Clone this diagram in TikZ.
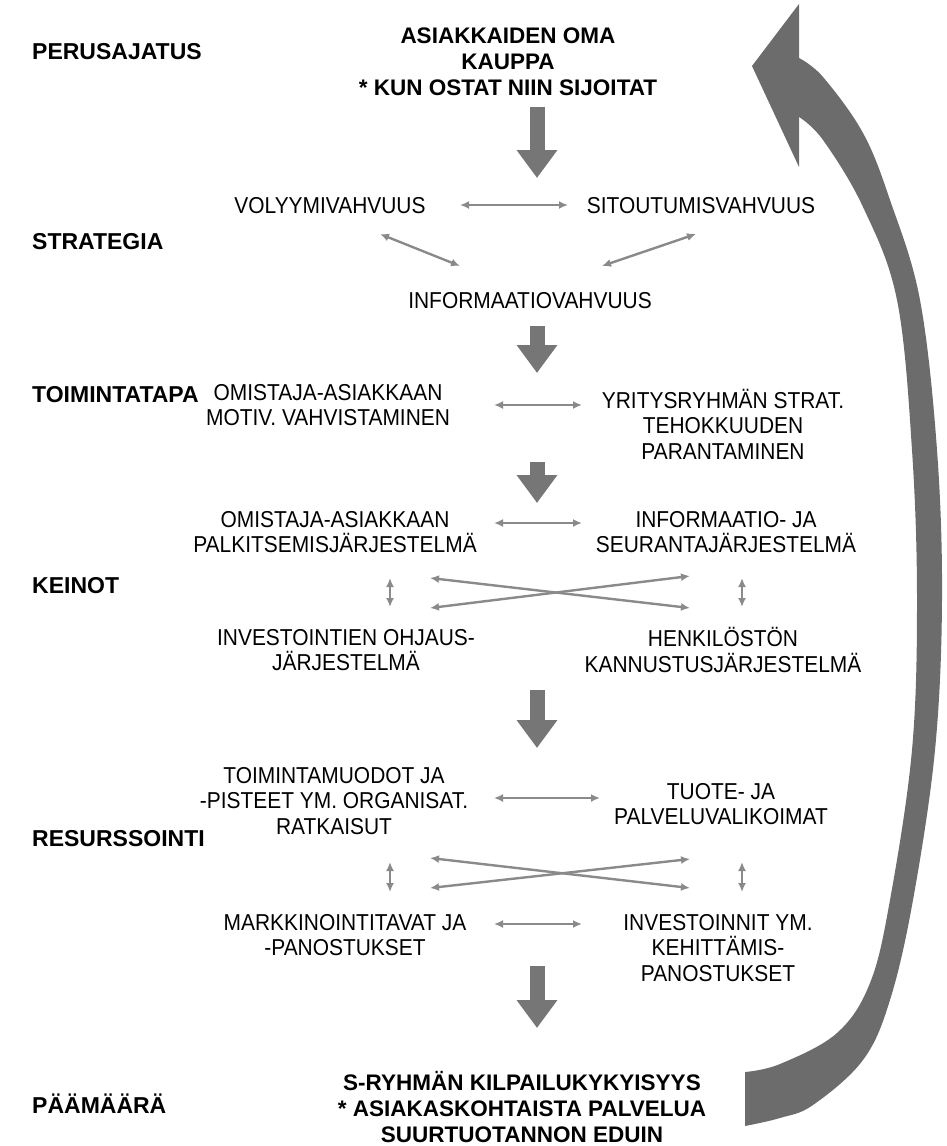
\documentclass[tikz,border=0pt]{standalone}
\usepackage{fontspec}
\setmainfont{Liberation Sans}
\newfontfamily\itemfont{Liberation Sans}[FakeStretch=0.91]
\usetikzlibrary{arrows.meta}
\definecolor{flowgray}{RGB}{118,118,118}
\definecolor{linkgray}{RGB}{138,138,138}
\definecolor{curvegray}{RGB}{108,108,108}

\begin{document}
\begin{tikzpicture}[x=1pt, y=-1pt,
  head/.style={anchor=west, inner sep=0, font=\fontsize{23}{25.5}\selectfont\bfseries},
  goal/.style={align=center, inner sep=0, font=\fontsize{22.5}{26}\selectfont\bfseries},
  item/.style={align=center, inner sep=0, font=\itemfont\fontsize{23}{25.5}\selectfont},
  link/.style={{Latex[length=9pt,width=8pt]}-{Latex[length=9pt,width=8pt]}, line width=2.4pt, draw=linkgray},
  flow/.style={-{Triangle[length=28pt,width=39pt]}, line width=15pt, draw=flowgray}
]
\useasboundingbox (0,0) rectangle (947,1146);

% Level headings on the left
\node[head] (perus) at (32,52) {PERUSAJATUS};
\node[head] (strat) at (32,242) {STRATEGIA};
\node[head] (toim) at (32,395) {TOIMINTATAPA};
\node[head] (keinot) at (32,586) {KEINOT};
\node[head] (resurs) at (32,839) {RESURSSOINTI};
\node[head] (paam) at (32,1104) {PÄÄMÄÄRÄ};

% Idea and goal
\node[goal] (idea) at (508,62) {ASIAKKAIDEN OMA\\KAUPPA\\* KUN OSTAT NIIN SIJOITAT};
\node[goal] (kilp) at (522,1107) {S-RYHMÄN KILPAILUKYKYISYYS\\* ASIAKASKOHTAISTA PALVELUA\\SUURTUOTANNON EDUIN};

% Strategy
\node[item] (vol) at (330,206) {VOLYYMIVAHVUUS};
\node[item] (sit) at (701,206) {SITOUTUMISVAHVUUS};
\node[item] (inf) at (530,301) {INFORMAATIOVAHVUUS};

% Way of working
\node[item] (motiv) at (328,405) {OMISTAJA-ASIAKKAAN\\MOTIV. VAHVISTAMINEN};
\node[item] (teho) at (723,424) {YRITYSRYHMÄN STRAT.\\TEHOKKUUDEN\\PARANTAMINEN};

% Means
\node[item] (palk) at (335,532) {OMISTAJA-ASIAKKAAN\\PALKITSEMISJÄRJESTELMÄ};
\node[item] (seur) at (726,532) {INFORMAATIO- JA\\SEURANTAJÄRJESTELMÄ};
\node[item] (ohj) at (346,650) {INVESTOINTIEN OHJAUS-\\JÄRJESTELMÄ};
\node[item] (kann) at (723,650) {HENKILÖSTÖN\\KANNUSTUSJÄRJESTELMÄ};

% Resources
\node[item] (muod) at (334,801) {TOIMINTAMUODOT JA\\-PISTEET YM. ORGANISAT.\\RATKAISUT};
\node[item] (valik) at (721,804) {TUOTE- JA\\PALVELUVALIKOIMAT};
\node[item] (mark) at (345,935) {MARKKINOINTITAVAT JA\\-PANOSTUKSET};
\node[item] (kehit) at (718,948) {INVESTOINNIT YM.\\KEHITTÄMIS-\\PANOSTUKSET};

% End points of the arrows
\coordinate (f1a) at (537,107); \coordinate (f1b) at (537,178);
\coordinate (f2a) at (537,326); \coordinate (f2b) at (537,373);
\coordinate (f3a) at (537,462); \coordinate (f3b) at (537,503);
\coordinate (f4a) at (537,690); \coordinate (f4b) at (537,748);
\coordinate (f5a) at (537,966); \coordinate (f5b) at (537,1028);
\coordinate (dl1) at (380,234); \coordinate (dl2) at (460,266);
\coordinate (dr1) at (602,266); \coordinate (dr2) at (696,234);
\coordinate (xa1) at (430,578); \coordinate (xa2) at (690,608);
\coordinate (xb1) at (430,608); \coordinate (xb2) at (690,576);
\coordinate (ya1) at (430,858); \coordinate (ya2) at (690,888);
\coordinate (yb1) at (430,888); \coordinate (yb2) at (690,859);

\draw[flow] (f1a) -- (f1b);
\draw[flow] (f2a) -- (f2b);
\draw[flow] (f3a) -- (f3b);
\draw[flow] (f4a) -- (f4b);
\draw[flow] (f5a) -- (f5b);

\draw[link] (460,205) -- (568,205);
\draw[link] (dl1) -- (dl2);
\draw[link] (dr1) -- (dr2);
\draw[link] (494,405) -- (582,405);
\draw[link] (494,523) -- (582,523);
\draw[link] (xa1) -- (xa2);
\draw[link] (xb1) -- (xb2);
\draw[link] (390,578) -- (390,607);
\draw[link] (742,578) -- (742,607);
\draw[link] (494,798) -- (600,798);
\draw[link] (ya1) -- (ya2);
\draw[link] (yb1) -- (yb2);
\draw[link] (390,862) -- (390,892);
\draw[link] (742,862) -- (742,892);
\draw[link] (494,924) -- (582,924);

% Big return arrow
\fill[curvegray] plot[smooth, tension=0.6] coordinates {(799,58) (823,77) (863,133) (890,200) (920,300) (937,450) (942,600) (935,750) (913,900) (890,1000) (863,1060) (813,1105) (780,1118) (745,1126)}
  -- plot[smooth, tension=0.6] coordinates {(745,1072) (780,1064) (837,1033) (870,983) (890,900) (912,750) (917,600) (912,450) (897,300) (863,207) (823,140) (799,117)} -- cycle;
\fill[curvegray] (799,4) -- (752,66) -- (799,167) -- cycle;
\end{tikzpicture}
\end{document}
